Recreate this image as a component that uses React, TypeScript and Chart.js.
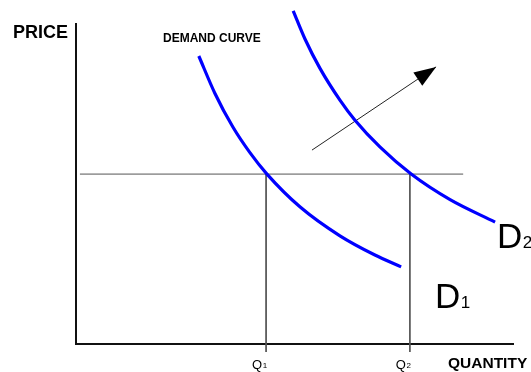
import React, { useEffect, useRef } from 'react';
import { Chart, registerables } from 'chart.js';

Chart.register(...registerables);

// Demand curve D1 (quantity, price)
const demand1Q = [28.1, 31.8, 35.9, 39.8, 43.7, 51.3, 60.4, 68.4, 74.4];
const demand1P = [90.0, 78.3, 67.8, 59.8, 53.1, 42.8, 33.8, 27.8, 24.1];
// Demand curve D2 (shifted right)
const demand2Q = [49.7, 52.4, 55.8, 60.4, 63.8, 69.6, 76.7, 85.6, 95.9];
const demand2P = [104.1, 95.3, 86.2, 76.2, 70.0, 61.5, 53.1, 45.1, 38.1];
// Price level and quantities
const priceLevel = 53.1;
const priceLineQ = [0.9, 88.6];
const quantityMarks = [43.5, 76.4];
const quantitySubs = ['1', '2'];
const tickBottom = -2.5;
// Shift arrow
const arrowQ = [54.0, 82.4];
const arrowP = [60.6, 86.6];

const FONT = '"Liberation Sans", Arial, sans-serif';

const zip = (xs: number[], ys: number[]) => xs.map((x, i) => ({ x, y: ys[i] }));

const annotationsPlugin = {
  id: 'annotations',
  afterDatasetsDraw(chart: any) {
    const { ctx, chartArea } = chart;
    const xs = chart.scales.x;
    const ys = chart.scales.y;
    ctx.save();
    // arrow head
    const x0 = xs.getPixelForValue(arrowQ[0]);
    const y0 = ys.getPixelForValue(arrowP[0]);
    const x1 = xs.getPixelForValue(arrowQ[1]);
    const y1 = ys.getPixelForValue(arrowP[1]);
    const ang = Math.atan2(y1 - y0, x1 - x0);
    const len = 22;
    const hw = 8;
    const bx = x1 - len * Math.cos(ang);
    const by = y1 - len * Math.sin(ang);
    ctx.fillStyle = '#000';
    ctx.beginPath();
    ctx.moveTo(x1, y1);
    ctx.lineTo(bx + hw * Math.sin(ang), by - hw * Math.cos(ang));
    ctx.lineTo(bx - hw * Math.sin(ang), by + hw * Math.cos(ang));
    ctx.closePath();
    ctx.fill();

    ctx.fillStyle = '#000';
    ctx.textBaseline = 'alphabetic';
    // PRICE
    ctx.font = 'bold 18px ' + FONT;
    ctx.textAlign = 'right';
    ctx.fillText('PRICE', chartArea.left - 8, 38);
    // QUANTITY
    ctx.font = 'bold 15.5px ' + FONT;
    ctx.textAlign = 'left';
    ctx.fillText('QUANTITY', 448, 368);
    // DEMAND CURVE
    ctx.font = 'bold 12px ' + FONT;
    ctx.fillText('DEMAND CURVE', 163, 42);
    // Q labels
    quantityMarks.forEach((q, i) => {
      const px = xs.getPixelForValue(q);
      ctx.font = '13px ' + FONT;
      const w = ctx.measureText('Q').width;
      ctx.fillText('Q', px - 14, 369);
      ctx.font = '8px ' + FONT;
      ctx.fillText(quantitySubs[i], px - 14 + w + 0.5, 368);
    });
    // D labels
    const dLabel = (sub: string, x: number, y: number) => {
      ctx.font = '35px ' + FONT;
      const w = ctx.measureText('D').width;
      ctx.fillText('D', x, y);
      ctx.font = '17px ' + FONT;
      ctx.fillText(sub, x + w + 0.5, y);
    };
    dLabel('1', 435, 308);
    dLabel('2', 497, 248);
    ctx.restore();
  },
};

export default function App() {
  const ref = useRef<HTMLCanvasElement | null>(null);
  useEffect(() => {
    if (!ref.current) return;
    const curve = (data: any) => ({
      data,
      borderColor: '#0000ff',
      borderWidth: 3.2,
      pointRadius: 0,
      cubicInterpolationMode: 'monotone',
      clip: false,
      fill: false,
    });
    const thin = (data: any, color: string) => ({
      data,
      borderColor: color,
      borderWidth: 1,
      pointRadius: 0,
      clip: false,
      fill: false,
    });
    const chart = new Chart(ref.current, {
      type: 'line',
      data: {
        datasets: [
          curve(zip(demand1Q, demand1P)) as any,
          curve(zip(demand2Q, demand2P)) as any,
          thin(zip(arrowQ, arrowP), '#222'),
          thin(priceLineQ.map((x) => ({ x, y: priceLevel })), '#555'),
          ...quantityMarks.map((q) =>
            thin([{ x: q, y: priceLevel }, { x: q, y: tickBottom }], '#555')
          ),
        ],
      },
      options: {
        animation: false,
        responsive: false,
        devicePixelRatio: 1,
        layout: { padding: { left: 76, right: 18, top: 24, bottom: 28 } },
        plugins: { legend: { display: false }, tooltip: { enabled: false } },
        events: [],
        scales: {
          x: {
            type: 'linear',
            min: 0,
            max: 100,
            grid: { display: false, drawTicks: false },
            ticks: { display: false },
            border: { display: true, color: '#111', width: 2 },
          },
          y: {
            type: 'linear',
            min: 0,
            max: 100,
            grid: { display: false, drawTicks: false },
            ticks: { display: false },
            border: { display: true, color: '#111', width: 2 },
          },
        },
      },
      plugins: [annotationsPlugin],
    });
    return () => chart.destroy();
  }, []);
  return (
    <div style={{ position: 'absolute', left: 0, top: 0, width: 531, height: 372, background: '#fff' }}>
      <canvas ref={ref} width={531} height={372} />
    </div>
  );
}
